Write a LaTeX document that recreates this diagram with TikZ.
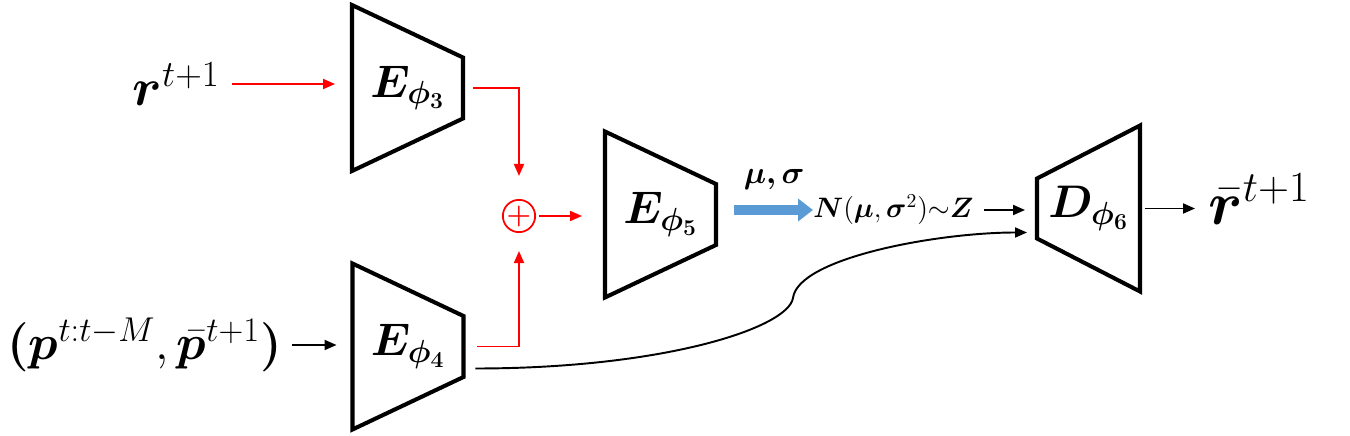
\RequirePackage{fix-cm}
\documentclass[tikz,border=0pt]{standalone}
\usepackage{amsmath,bm}
\usepackage{xcolor}
\usetikzlibrary{arrows.meta,positioning}
\definecolor{azulgauss}{RGB}{91,155,213}

\begin{document}
\begin{tikzpicture}[x=0.02cm,y=-0.02cm,
  caja/.style={minimum width=2.22cm,minimum height=3.32cm,inner sep=0pt,outer sep=0pt,
               font=\fontsize{26}{30}\selectfont},
  trap/.style={line width=2.3pt,line join=miter},
  etiq/.style={inner sep=0pt,font=\fontsize{30}{34}\selectfont},
  etiqn/.style={inner sep=0pt,font=\fontsize{16}{19}\selectfont},
  suma/.style={circle,draw=red,text=red,line width=1pt,minimum size=0.56cm,inner sep=0pt,
               font=\fontsize{16}{16}\selectfont},
  ar/.style={-{Triangle[length=2.4mm,width=2mm]},line width=1.1pt},
  arr/.style={ar,red},
  gruesa/.style={draw=azulgauss,line width=0.2cm,-{Triangle[length=0.3cm,width=0.44cm]}}
]
\useasboundingbox (0,0) rectangle (1350,436);

\node[caja] (e3) at (407.5,88)    {$\bm{E_{\phi_3}}$};
\node[caja] (e4) at (408,346.5)   {$\bm{E_{\phi_4}}$};
\node[caja] (e5) at (660.5,214.5) {$\bm{E_{\phi_5}}$};
\node[caja,minimum width=2.06cm] (d6) at (1088.5,208.5) {$\bm{D_{\phi_6}}$};

\foreach \n in {e3,e4,e5}
  \draw[trap] (\n.north west) -- ([yshift=0.61cm]\n.east) -- ([yshift=-0.61cm]\n.east)
    -- (\n.south west) -- cycle;
\draw[trap] (d6.north east) -- (d6.south east) -- ([yshift=-0.6cm]d6.west)
  -- ([yshift=0.6cm]d6.west) -- cycle;

\node[etiq,anchor=east] (r) at (220,84) {$\bm{r}^{t+1}$};
\node[etiq,anchor=east,font=\fontsize{28}{32}\selectfont] (p) at (282,345)
  {$\bm{(}\bm{p}^{t:t-M},\bar{\bm{p}}^{t+1}\bm{)}$};
\node[etiq,anchor=west,font=\fontsize{35}{40}\selectfont] (rb) at (1208,199) {$\bar{\bm{r}}^{t+1}$};
\node[suma] (plus) at (519,216) {$\bm{+}$};
\node[etiqn,anchor=west] (nz) at (813,210) {$\bm{N}(\bm{\mu},\bm{\sigma}^2){\sim}\bm{Z}$};
\coordinate (codo) at (793,298);

\draw[arr,shorten <=0.24cm,shorten >=0.34cm] (r.east) -- (r.east -| e3.west);
\draw[arr,shorten <=0.2cm,shorten >=0.46cm] (e3.east) -| (plus.north);
\draw[arr,shorten <=0.28cm,shorten >=0.36cm] (e4.east) -| (plus.south);
\draw[arr,shorten <=0.06cm,shorten >=0.46cm] (plus.east) -- (plus.east -| e5.west);
\draw[ar,shorten <=0.2cm,shorten >=0.32cm] (p.east) -- (p.east -| e4.west);
\draw[gruesa,shorten <=0.36cm] (e5.east |- nz.west) -- (nz.west)
  node[pos=0.6,above=0.3cm,inner sep=0pt,font=\fontsize{18}{20}\selectfont] (musig) {$\bm{\mu,\sigma}$};
\draw[ar,shorten <=0.2cm,shorten >=0.24cm] (nz.east) -- (nz.east -| d6.west);
\draw[ar,shorten <=0.1cm,shorten >=0.26cm] (d6.east) -- (d6.east -| rb.west);
\draw[ar,shorten <=0.24cm,shorten >=0.2cm] ([yshift=-0.44cm]e4.east)
  .. controls +(200,0) and +(-5,30) .. (codo)
  .. controls +(5,-40) and +(-100,0) .. ([yshift=-0.48cm]d6.west);
\end{tikzpicture}
\end{document}
